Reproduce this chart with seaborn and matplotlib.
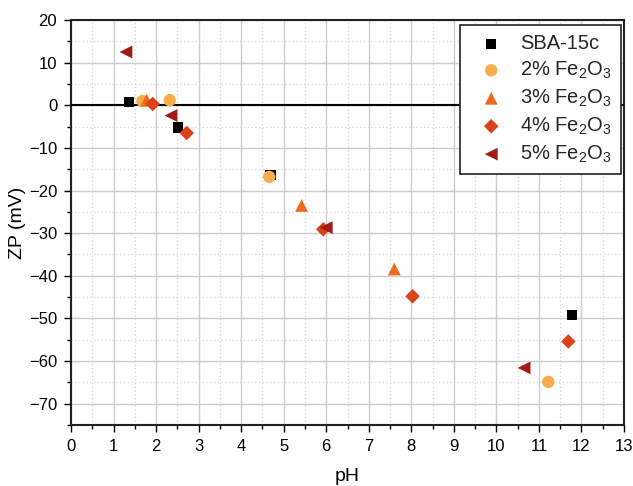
import numpy as np
import pandas as pd
import matplotlib
matplotlib.use("Agg")
import matplotlib.pyplot as plt
from matplotlib.ticker import MultipleLocator
import seaborn as sns

# Zeta potential vs pH for each sample
samples = ["SBA-15c", "2% Fe$_2$O$_3$", "3% Fe$_2$O$_3$", "4% Fe$_2$O$_3$", "5% Fe$_2$O$_3$"]

ph_sba = [1.36, 2.51, 4.69, 11.78]
zp_sba = [0.7, -5.2, -16.4, -49.2]

ph_fe2 = [1.68, 2.32, 4.66, 11.22]
zp_fe2 = [1.0, 1.2, -16.8, -64.9]

ph_fe3 = [1.78, 5.42, 7.60]
zp_fe3 = [1.2, -23.5, -38.4]

ph_fe4 = [1.92, 2.72, 5.93, 8.03, 11.69]
zp_fe4 = [0.3, -6.5, -29.1, -44.8, -55.4]

ph_fe5 = [1.29, 2.35, 6.0, 10.65]
zp_fe5 = [12.5, -2.4, -28.7, -61.6]

colors = ["#000000", "#f9ac4b", "#ec6b1f", "#d9421a", "#a01b16"]
markers = ["s", "o", "^", "D", "<"]
sizes = [55, 80, 85, 55, 85]

ph_all = [ph_sba, ph_fe2, ph_fe3, ph_fe4, ph_fe5]
zp_all = [zp_sba, zp_fe2, zp_fe3, zp_fe4, zp_fe5]

df = pd.concat(
    [pd.DataFrame({"pH": p, "ZP": z, "sample": s}) for p, z, s in zip(ph_all, zp_all, samples)],
    ignore_index=True,
)

sns.set_theme(style="white")
plt.rcParams["font.family"] = ["Liberation Sans", "DejaVu Sans"]
plt.rcParams["mathtext.fontset"] = "custom"
plt.rcParams["mathtext.rm"] = "Liberation Sans"
plt.rcParams["mathtext.it"] = "Liberation Sans:italic"

fig = plt.figure(figsize=(6.33, 4.86), dpi=100)
ax = fig.add_axes([0.1122, 0.1255, 0.8736, 0.8333])

for s, c, m, sz in zip(samples, colors, markers, sizes):
    sub = df[df["sample"] == s]
    sns.scatterplot(data=sub, x="pH", y="ZP", color=c, marker=m, s=sz,
                    edgecolor="none", linewidth=0, label=s, ax=ax, zorder=4)

ax.axhline(0, color="black", lw=1.5, zorder=3)

ax.set_xlim(0, 13)
ax.set_ylim(-75, 20)
ax.xaxis.set_major_locator(MultipleLocator(1))
ax.xaxis.set_minor_locator(MultipleLocator(0.5))
ax.yaxis.set_major_locator(MultipleLocator(10))
ax.yaxis.set_minor_locator(MultipleLocator(5))

ax.grid(which="major", color="#cccccc", lw=1.0, ls="-", zorder=0)
ax.grid(which="minor", color="#d4d4d4", lw=0.9, ls=(0, (1, 2)), zorder=0)
ax.set_axisbelow(True)

for sp in ax.spines.values():
    sp.set_color("#222222")
    sp.set_linewidth(1.5)

ax.tick_params(which="major", direction="out", length=5, width=1.0, color="black",
               labelcolor="black", labelsize=12, bottom=True, left=True,
               top=False, right=False, pad=5)
ax.tick_params(which="minor", direction="out", length=3, width=1.0, color="black",
               bottom=True, left=True, top=False, right=False)

ax.set_xlabel("pH", fontsize=14, labelpad=10, color="black")
ax.set_ylabel("ZP (mV)", fontsize=14, labelpad=2, color="black")

leg = ax.legend(loc="upper right", fontsize=14.5, frameon=True, fancybox=False,
                edgecolor="#222222", framealpha=1, handletextpad=0.35,
                borderpad=0.45, labelspacing=0.33, handlelength=2.2,
                borderaxespad=0, bbox_to_anchor=(0.995, 0.988))
leg.get_frame().set_linewidth(1.2)

fig.savefig("out.png", dpi=100)
